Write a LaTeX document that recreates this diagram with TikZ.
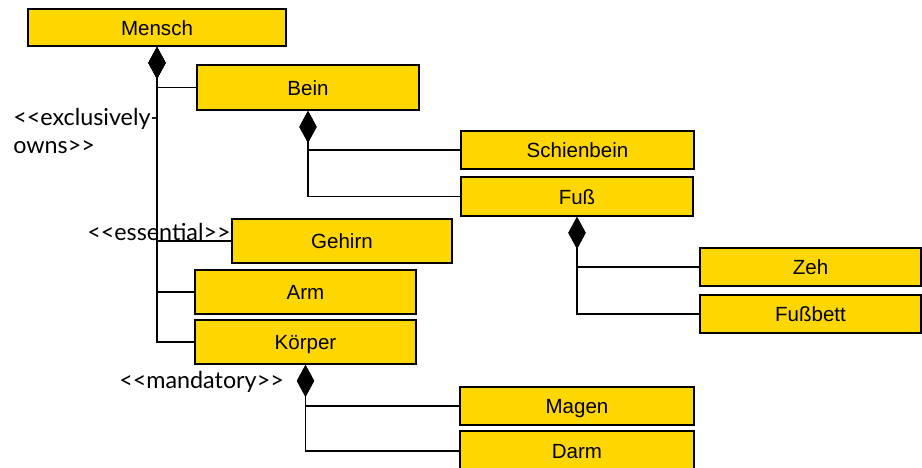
\documentclass[tikz,border=0pt]{standalone}
\usepackage{fontspec}
\setmainfont{Liberation Sans}
\newfontfamily\labfont{Lato}
\usetikzlibrary{arrows.meta}
\definecolor{boxyellow}{RGB}{255,215,0}
\begin{document}
\begin{tikzpicture}[x=0.75pt,y=-0.75pt,
  umlbox/.style={draw=black, fill=boxyellow, line width=1.3pt, inner sep=0pt, text height=13pt, text depth=1.5pt, font=\fontsize{15.4}{18}\selectfont},
  comp/.style={line width=1.3pt, {Diamond[length=24pt,width=13pt]}-},
  stereo/.style={inner sep=0pt, anchor=west, text height=12pt, text depth=3.5pt, font=\labfont\fontsize{17.5}{21}\selectfont}]
\useasboundingbox (0,0) rectangle (922,468);
\clip (0,0) rectangle (922,468);
% boxes
\node[umlbox, minimum width=193.5pt, minimum height=27.75pt] (mensch) at (157,27.5) {Mensch};
\node[umlbox, minimum width=166.5pt, minimum height=33.75pt] (bein) at (308,87.5) {Bein};
\node[umlbox, minimum width=174.75pt, minimum height=28.5pt] (schienbein) at (577.5,150) {Schienbein};
\node[umlbox, minimum width=174pt, minimum height=29.25pt] (fuss) at (577,196.5) {Fuß};
\node[umlbox, minimum width=165.75pt, minimum height=28.5pt] (zeh) at (810.5,267) {Zeh};
\node[umlbox, minimum width=165.75pt, minimum height=28.5pt] (fussbett) at (810.5,314) {Fußbett};
\node[umlbox, minimum width=165pt, minimum height=33pt] (gehirn) at (342,241) {Gehirn};
\node[umlbox, minimum width=165.75pt, minimum height=33pt] (arm) at (305.5,292) {Arm};
\node[umlbox, minimum width=165.75pt, minimum height=33pt] (koerper) at (305.5,342) {Körper};
\node[umlbox, minimum width=175.5pt, minimum height=28.5pt] (magen) at (577,406) {Magen};
\node[umlbox, minimum width=175.5pt, minimum height=30pt] (darm) at (577,451) {Darm};
% compositions
\draw[comp] (mensch.south) |- (bein.west);
\draw[comp] (mensch.south) |- (gehirn.west);
\draw[comp] (mensch.south) |- (arm.west);
\draw[comp] (mensch.south) |- (koerper.west);
\draw[comp] (bein.south) |- (schienbein.west);
\draw[comp] (bein.south) |- (fuss.west);
\draw[comp] (fuss.south) |- (zeh.west);
\draw[comp] (fuss.south) |- (fussbett.west);
\draw[comp] (koerper.south) |- (magen.west);
\draw[comp] (koerper.south) |- (darm.west);
% stereotypes
\node[stereo] (excl) at (13,119.5) {<<exclusively-};
\node[stereo] (owns) at (13,147.5) {owns>>};
\node[stereo] (ess) at (87,234.5) {<<essential>>};
\node[stereo] (mand) at (119,383) {<<mandatory>>};
\end{tikzpicture}
\end{document}
